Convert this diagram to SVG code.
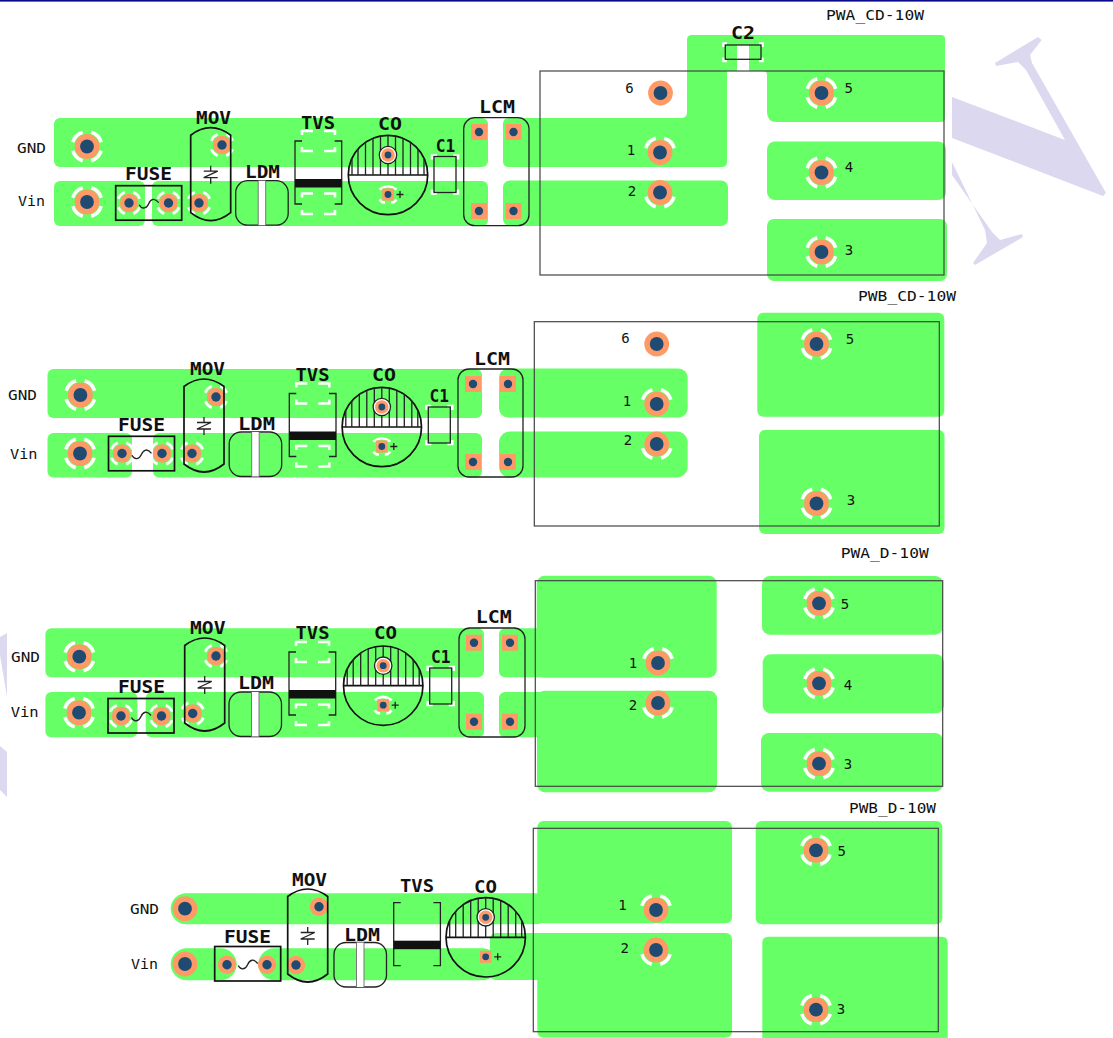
<svg xmlns="http://www.w3.org/2000/svg" width="1113" height="1038" viewBox="0 0 1113 1038">
<style>
.g{fill:#66ff66}
.o{fill:#ff9966}
.n{fill:#1f4b73}
.w{fill:none;stroke:#fff;stroke-width:3.5}
.ws{fill:none;stroke:#fff;stroke-width:2.6}
.l{fill:none;stroke:#222;stroke-width:1.3}
.ln{fill:none;stroke:#111;stroke-width:1.7}
.b{fill:none;stroke:#444;stroke-width:1.2}
.wm{fill:#dbd8f0}
text{fill:#111;font-family:"DejaVu Sans Mono","Liberation Mono",monospace}
.t{font-size:14px}
.h{font-size:18px;font-weight:bold}
.d{font-size:14px;text-anchor:middle}
</style>
<defs>
<path id="tT" class="w" d="M-14.2,-4.3A14.8,14.8 0 0 1 -4.3,-14.2M4.3,-14.2A14.8,14.8 0 0 1 14.2,-4.3"/>
<path id="tB" class="w" d="M14.2,4.3A14.8,14.8 0 0 1 4.3,14.2M-4.3,14.2A14.8,14.8 0 0 1 -14.2,4.3"/>
<g id="t4"><use href="#tT"/><use href="#tB"/></g>
<path id="ts" class="ws" d="M-10.7,-4.3A11.5,11.5 0 0 1 -4.3,-10.7M4.3,-10.7A11.5,11.5 0 0 1 10.7,-4.3M10.7,4.3A11.5,11.5 0 0 1 4.3,10.7M-4.3,10.7A11.5,11.5 0 0 1 -10.7,4.3"/>
<g id="p"><circle class="o" r="12.4"/><circle class="n" r="6.9"/></g>
<g id="s"><circle class="o" r="9.2"/><circle class="n" r="4.7"/></g>
<g id="sq"><rect class="o" x="-8" y="-8" width="16" height="16"/><circle class="n" r="4.2"/></g>
<g id="fuse"><rect class="ln" width="66" height="34.5"/><path class="l" d="M23.5,19C26,24 31,23 33,18C35,13 39,12 43,17"/></g>
<g id="mov"><path class="ln" d="M-20,7.5Q0,-7.5 20,7.5V85Q0,101 -20,85Z"/><path class="l" d="M0,38V43.5M-7,43.5H7L-7,50H7M0,50V56"/></g>
<g id="ldm"><rect class="l" width="52.5" height="44.5" rx="12"/><rect x="22.5" y="0" width="7.5" height="44.5" fill="#fff"/><path d="M22.5,0V44.5M30,0V44.5" fill="none" stroke="#777" stroke-width="1"/></g>
<g id="tvs"><path class="l" d="M7,0H0V63H7M39.7,0H46.7V63H39.7"/><rect y="38" width="46.7" height="8.5" fill="#111"/></g>
<g id="tvq"><path class="ws" d="M7,-6V-10H18M29,-10H40V-6M7,6V10H18M29,10H40V6"/><path class="ws" d="M7,56.5V52.5H18M29,52.5H40V56.5M7,69V73H18M29,73H40V69"/></g>
<path id="colt" class="ws" d="M-8.5,14.5Q0,8 8.5,14.5M-8.5,24.5Q-6,28 -3,27.5M8.5,24.5Q6,28 3,27.5"/>
<g id="co">
<circle class="ln" r="39.7"/>
<path class="ln" d="M-39.7,0H39.7"/>
<path class="l" d="M0,0V-39.7M7.5,0V-39M-7.5,0V-39M15,0V-36.8M-15,0V-36.8M22.5,0V-32.7M-22.5,0V-32.7M30,0V-26M-30,0V-26M36,0V-16.6M-36,0V-16.6"/>
<circle cx="0" cy="-20" r="8.7" fill="#fff" stroke="#222" stroke-width="1.3"/>
<circle class="o" cy="-20" r="6.8"/><circle class="n" cy="-20" r="3.4"/>
<rect class="o" x="-5.7" y="13.5" width="11.4" height="12"/><circle class="n" cy="19.5" r="3.4"/>
<path class="l" stroke-width="1" d="M8.5,19.5H15.5M12,16V23"/>
</g>
<g id="c1"><path class="ws" d="M-13,-15V-19H-8M8,-19H13V-15M-13,15V19H-8M8,19H13V15"/><rect class="l" stroke-width="1" x="-11" y="-18" width="22" height="36"/></g>
</defs>

<rect x="0" y="0" width="1113" height="1.6" fill="#0a0a8c"/>

<g id="watermark">
<polygon class="wm" points="1041.7,40 1038,37 995,63 996,66 1018,62 1026,70 1065,140 952,97 952,138 1103,196 1106,193 1032,63 1030,55"/>
<polygon class="wm" points="952,162 985,230 987,243 973,263 975,265 1023,237 1022,234 1000,240 992,232 952,175"/>
<polygon class="wm" points="0,637 7,633 7,697 0,655"/>
<polygon class="wm" points="0,746 7,752 7,797 0,790"/>
</g>

<g id="board-pwa-cd">
<rect class="g" x="54" y="118" width="434" height="49" rx="6"/>
<rect class="g" x="54" y="181" width="91" height="45" rx="6"/>
<rect class="g" x="152" y="181" width="336" height="45" rx="6"/>
<path class="g" d="M692,35H941Q945,35 945,39V118Q945,122 941,122H777Q767,122 767,112V75Q767,71 763,71H749V45H737V71H727V162Q727,167 722,167H509Q503,167 503,161V124Q503,118 509,118H681Q687,118 687,112V40Q687,35 692,35Z"/>
<rect class="g" x="503" y="180.5" width="225" height="45.5" rx="7"/>
<rect class="g" x="767" y="141.5" width="179" height="58.5" rx="8"/>
<rect class="g" x="767" y="219" width="180" height="62" rx="7"/>
<rect class="b" x="540" y="71" width="404" height="204"/>
<use href="#t4" x="87" y="146.5"/><use href="#p" x="87" y="146.5"/>
<use href="#t4" x="87" y="202"/><use href="#p" x="87" y="202"/>
<use href="#ts" x="129" y="203"/><use href="#s" x="129" y="203"/>
<use href="#ts" x="168.5" y="203"/><use href="#s" x="168.5" y="203"/>
<use href="#ts" x="222" y="145"/><use href="#s" x="222" y="145"/>
<use href="#ts" x="199" y="203"/><use href="#s" x="199" y="203"/>
<use href="#fuse" x="115.7" y="185.7"/>
<use href="#mov" x="210.7" y="127.7"/>
<use href="#ldm" x="235.7" y="180.7"/>
<use href="#tvq" x="295" y="141"/><use href="#tvs" x="295" y="141"/>
<use href="#colt" x="388" y="175"/><use href="#co" x="388" y="175"/>
<use href="#c1" x="445" y="174.5"/>
<path class="ws" d="M723.5,47V43.5H727M759,43.5H762.5V47M723.5,57.5V61H727M759,61H762.5V57.5"/>
<rect class="l" stroke-width="1" x="725.3" y="45" width="35.7" height="14.3"/>
<rect class="l" x="463.7" y="117.7" width="65.3" height="108" rx="11"/>
<use href="#sq" x="479" y="132"/><use href="#sq" x="513.5" y="132"/><use href="#sq" x="479" y="211"/><use href="#sq" x="513.5" y="211"/>
<use href="#p" x="660.5" y="93"/>
<use href="#tT" x="660" y="152.5"/><use href="#p" x="660" y="152.5"/>
<use href="#tB" x="660" y="192.5"/><use href="#p" x="660" y="192.5"/>
<use href="#t4" x="821.5" y="93"/><use href="#p" x="821.5" y="93"/>
<use href="#t4" x="821.5" y="172.5"/><use href="#p" x="821.5" y="172.5"/>
<use href="#t4" x="821.5" y="252"/><use href="#p" x="821.5" y="252"/>
<text class="t" x="826" y="20" textLength="98" lengthAdjust="spacingAndGlyphs">PWA_CD-10W</text>
<text class="t" x="17" y="153" textLength="29" lengthAdjust="spacingAndGlyphs">GND</text>
<text class="t" x="18" y="206" textLength="27" lengthAdjust="spacingAndGlyphs">Vin</text>
<text class="h" x="125" y="179.5" textLength="47" lengthAdjust="spacingAndGlyphs">FUSE</text>
<text class="h" x="196" y="123.5" textLength="35" lengthAdjust="spacingAndGlyphs">MOV</text>
<text class="h" x="245" y="178" textLength="35" lengthAdjust="spacingAndGlyphs">LDM</text>
<text class="h" x="301" y="128.5" textLength="34" lengthAdjust="spacingAndGlyphs">TVS</text>
<text class="h" x="378" y="129.5" textLength="24" lengthAdjust="spacingAndGlyphs">CO</text>
<text class="h" x="435.7" y="151.5" textLength="19.5" lengthAdjust="spacingAndGlyphs">C1</text>
<text class="h" x="479" y="112.5" textLength="36" lengthAdjust="spacingAndGlyphs">LCM</text>
<text class="h" x="731" y="38.5" textLength="24" lengthAdjust="spacingAndGlyphs">C2</text>
<text class="d" x="629.5" y="93">6</text><text class="d" x="631" y="155">1</text><text class="d" x="632" y="196">2</text>
<text class="d" x="848.7" y="93">5</text><text class="d" x="849" y="172">4</text><text class="d" x="849" y="255">3</text>
</g>

<g id="board-pwb-cd">
<rect class="g" x="47.5" y="369" width="434.5" height="49" rx="6"/>
<rect class="g" x="47.5" y="433" width="84.5" height="44.5" rx="6"/>
<rect class="g" x="153" y="433" width="329" height="44.5" rx="6"/>
<rect class="g" x="499" y="368.5" width="188.7" height="49" rx="9"/>
<rect class="g" x="499" y="431.5" width="188.7" height="46" rx="11"/>
<rect class="g" x="757.3" y="312.7" width="187" height="104" rx="6"/>
<rect class="g" x="759" y="430" width="185.5" height="104" rx="6"/>
<rect class="b" x="534.3" y="321.7" width="405" height="204.3"/>
<use href="#t4" x="80.4" y="395"/><use href="#p" x="80.4" y="395"/>
<use href="#t4" x="80" y="453.5"/><use href="#p" x="80" y="453.5"/>
<use href="#ts" x="122" y="453.5"/><use href="#s" x="122" y="453.5"/>
<use href="#ts" x="162" y="453.5"/><use href="#s" x="162" y="453.5"/>
<use href="#ts" x="216" y="397"/><use href="#s" x="216" y="397"/>
<use href="#ts" x="192" y="453.5"/><use href="#s" x="192" y="453.5"/>
<use href="#fuse" x="108.5" y="436.3"/>
<use href="#mov" x="204" y="379"/>
<use href="#ldm" x="229.2" y="432"/>
<use href="#tvq" x="289.3" y="393.5"/><use href="#tvs" x="289.3" y="393.5"/>
<use href="#colt" x="381.8" y="427"/><use href="#co" x="381.8" y="427"/>
<use href="#c1" x="439.3" y="425"/>
<rect class="l" x="458" y="369" width="65" height="108" rx="11"/>
<use href="#sq" x="473" y="384"/><use href="#sq" x="508" y="384"/><use href="#sq" x="473" y="462"/><use href="#sq" x="508" y="462"/>
<use href="#p" x="656.7" y="344"/>
<use href="#tT" x="656.7" y="404"/><use href="#p" x="656.7" y="404"/>
<use href="#tB" x="656.7" y="444"/><use href="#p" x="656.7" y="444"/>
<use href="#t4" x="816.5" y="344"/><use href="#p" x="816.5" y="344"/>
<use href="#t4" x="816.5" y="503.5"/><use href="#p" x="816.5" y="503.5"/>
<text class="t" x="858" y="301" textLength="98" lengthAdjust="spacingAndGlyphs">PWB_CD-10W</text>
<text class="t" x="8" y="400" textLength="29" lengthAdjust="spacingAndGlyphs">GND</text>
<text class="t" x="10" y="459" textLength="27.5" lengthAdjust="spacingAndGlyphs">Vin</text>
<text class="h" x="118" y="430.5" textLength="47" lengthAdjust="spacingAndGlyphs">FUSE</text>
<text class="h" x="190" y="374.5" textLength="35" lengthAdjust="spacingAndGlyphs">MOV</text>
<text class="h" x="238" y="429.5" textLength="37" lengthAdjust="spacingAndGlyphs">LDM</text>
<text class="h" x="295.5" y="380.5" textLength="34" lengthAdjust="spacingAndGlyphs">TVS</text>
<text class="h" x="372" y="380.5" textLength="24" lengthAdjust="spacingAndGlyphs">CO</text>
<text class="h" x="429.6" y="401.5" textLength="19.5" lengthAdjust="spacingAndGlyphs">C1</text>
<text class="h" x="474" y="364.5" textLength="36" lengthAdjust="spacingAndGlyphs">LCM</text>
<text class="d" x="625.5" y="343">6</text><text class="d" x="627" y="406">1</text><text class="d" x="628" y="445">2</text>
<text class="d" x="850" y="344">5</text><text class="d" x="851" y="505">3</text>
</g>

<g id="board-pwa-d">
<rect class="g" x="45.4" y="628.3" width="438.6" height="49" rx="6"/>
<rect class="g" x="45.4" y="692" width="92" height="45.3" rx="6"/>
<rect class="g" x="145.7" y="692" width="338.3" height="45.3" rx="6"/>
<rect class="g" x="499" y="628.3" width="50" height="49" rx="6"/>
<rect class="g" x="499" y="692" width="50" height="45.3" rx="6"/>
<rect class="g" x="536.7" y="575.7" width="180" height="102" rx="8"/>
<rect class="g" x="537" y="690.7" width="180" height="101.6" rx="8"/>
<rect class="g" x="762" y="576" width="181" height="58.7" rx="8"/>
<rect class="g" x="762.7" y="654.3" width="181.3" height="59" rx="8"/>
<rect class="g" x="761" y="733" width="182" height="58.7" rx="8"/>
<rect class="b" x="535.3" y="580.7" width="407.4" height="205.6"/>
<use href="#t4" x="79.3" y="656.7"/><use href="#p" x="79.3" y="656.7"/>
<use href="#t4" x="79" y="712.7"/><use href="#p" x="79" y="712.7"/>
<use href="#ts" x="121" y="716"/><use href="#s" x="121" y="716"/>
<use href="#ts" x="161.5" y="716"/><use href="#s" x="161.5" y="716"/>
<use href="#ts" x="216" y="656"/><use href="#s" x="216" y="656"/>
<use href="#ts" x="192.7" y="713.5"/><use href="#s" x="192.7" y="713.5"/>
<use href="#fuse" x="108" y="698.5"/>
<use href="#mov" x="204.7" y="638"/>
<use href="#ldm" x="229" y="692"/>
<use href="#tvq" x="289" y="652"/><use href="#tvs" x="289" y="652"/>
<use href="#colt" x="383.2" y="685.7"/><use href="#co" x="383.2" y="685.7"/>
<use href="#c1" x="440.7" y="686"/>
<rect class="l" x="459" y="628" width="66" height="109" rx="11"/>
<use href="#sq" x="474" y="642.7"/><use href="#sq" x="510" y="642.7"/><use href="#sq" x="474" y="721.7"/><use href="#sq" x="510" y="721.7"/>
<use href="#tT" x="658" y="663"/><use href="#p" x="658" y="663"/>
<use href="#tB" x="658" y="703"/><use href="#p" x="658" y="703"/>
<use href="#t4" x="819" y="603.3"/><use href="#p" x="819" y="603.3"/>
<use href="#t4" x="819" y="683.3"/><use href="#p" x="819" y="683.3"/>
<use href="#t4" x="819" y="763.7"/><use href="#p" x="819" y="763.7"/>
<text class="t" x="840.7" y="558" textLength="88" lengthAdjust="spacingAndGlyphs">PWA_D-10W</text>
<text class="t" x="11" y="662" textLength="29" lengthAdjust="spacingAndGlyphs">GND</text>
<text class="t" x="10.7" y="716.5" textLength="28" lengthAdjust="spacingAndGlyphs">Vin</text>
<text class="h" x="118" y="693" textLength="47" lengthAdjust="spacingAndGlyphs">FUSE</text>
<text class="h" x="190" y="633.5" textLength="35.5" lengthAdjust="spacingAndGlyphs">MOV</text>
<text class="h" x="238" y="689" textLength="36" lengthAdjust="spacingAndGlyphs">LDM</text>
<text class="h" x="295.5" y="638.5" textLength="34" lengthAdjust="spacingAndGlyphs">TVS</text>
<text class="h" x="374" y="638.5" textLength="23" lengthAdjust="spacingAndGlyphs">CO</text>
<text class="h" x="431" y="662.5" textLength="19.5" lengthAdjust="spacingAndGlyphs">C1</text>
<text class="h" x="475.7" y="623" textLength="36" lengthAdjust="spacingAndGlyphs">LCM</text>
<text class="d" x="633" y="668">1</text><text class="d" x="633" y="710">2</text>
<text class="d" x="845" y="609">5</text><text class="d" x="848" y="690">4</text><text class="d" x="848" y="769">3</text>
</g>

<g id="board-pwb-d">
<rect class="g" x="170.7" y="893.3" width="380" height="31" rx="15.5"/>
<rect class="g" x="170.7" y="948.3" width="66" height="32" rx="16"/>
<rect class="g" x="258.3" y="948.3" width="240" height="32" rx="16"/>
<rect class="g" x="490" y="933" width="60" height="47" rx="6"/>
<rect class="g" x="537.3" y="821" width="194.7" height="102.3" rx="6"/>
<rect class="g" x="537.3" y="933" width="194.7" height="104.7" rx="6"/>
<rect class="g" x="755.7" y="821" width="186.6" height="103.3" rx="6"/>
<path class="g" d="M768.3,936.7H941.7Q947.7,936.7 947.7,942.7V1038H762.3V942.7Q762.3,936.7 768.3,936.7Z"/>
<rect class="b" x="533.3" y="828.3" width="405" height="203.4"/>
<use href="#p" x="185" y="908.7"/>
<use href="#p" x="185" y="964"/>
<use href="#s" x="227" y="964.7"/><use href="#s" x="267" y="964.7"/>
<use href="#s" x="319" y="906.7"/><use href="#s" x="296" y="965"/>
<use href="#fuse" x="214.7" y="946.5"/>
<use href="#mov" x="307.7" y="889"/>
<use href="#ldm" x="334" y="942.5"/>
<use href="#tvs" x="393.7" y="902.7"/>
<use href="#co" x="485.7" y="937.3"/>
<use href="#tT" x="656" y="910"/><use href="#p" x="656" y="910"/>
<use href="#tB" x="656" y="950"/><use href="#p" x="656" y="950"/>
<use href="#t4" x="816" y="850.3"/><use href="#p" x="816" y="850.3"/>
<use href="#t4" x="816" y="1009.7"/><use href="#p" x="816" y="1009.7"/>
<text class="t" x="849" y="813" textLength="87" lengthAdjust="spacingAndGlyphs">PWB_D-10W</text>
<text class="t" x="130" y="914" textLength="29" lengthAdjust="spacingAndGlyphs">GND</text>
<text class="t" x="131" y="969" textLength="27" lengthAdjust="spacingAndGlyphs">Vin</text>
<text class="h" x="224" y="942.5" textLength="47" lengthAdjust="spacingAndGlyphs">FUSE</text>
<text class="h" x="292" y="885.5" textLength="35" lengthAdjust="spacingAndGlyphs">MOV</text>
<text class="h" x="344" y="940.5" textLength="36" lengthAdjust="spacingAndGlyphs">LDM</text>
<text class="h" x="400" y="891.5" textLength="34" lengthAdjust="spacingAndGlyphs">TVS</text>
<text class="h" x="474" y="892.5" textLength="23" lengthAdjust="spacingAndGlyphs">CO</text>
<text class="d" x="622.5" y="910">1</text><text class="d" x="624.7" y="953">2</text>
<text class="d" x="841.7" y="856">5</text><text class="d" x="841" y="1014">3</text>
</g>
</svg>
